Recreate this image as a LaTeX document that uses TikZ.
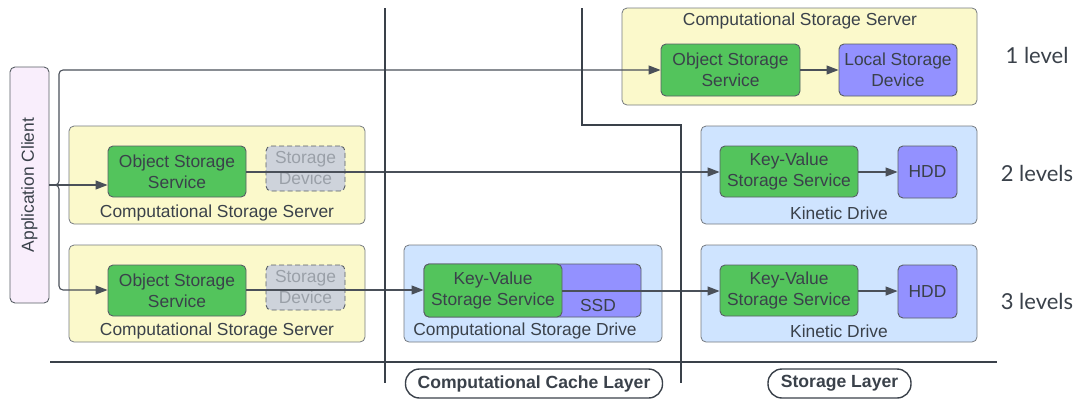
\documentclass[tikz,border=0pt]{standalone}
\usepackage{fontspec}
\setmainfont{Liberation Sans}
\newfontfamily\latofont{Lato}
\usetikzlibrary{arrows.meta}
\definecolor{txt}{HTML}{3A414A}
\definecolor{edge}{HTML}{4A5059}
\definecolor{yel}{HTML}{FBF9CB}
\definecolor{blu}{HTML}{CFE4FF}
\definecolor{grn}{HTML}{53C45C}
\definecolor{pur}{HTML}{9391FF}
\definecolor{gry}{HTML}{CED3DB}
\definecolor{gtx}{HTML}{9AA0A8}
\definecolor{pnk}{HTML}{F9EEFC}
\tikzset{
  base/.style={draw=txt!85, rounded corners=5pt, inner sep=0pt, line width=0.9pt, text=txt,
    font=\fontsize{17.4}{21}\selectfont, align=center},
  cont/.style={base, draw=txt!70, line width=0.8pt},
  ybox/.style={cont, fill=yel},
  bbox/.style={cont, fill=blu},
  gbox/.style={base, fill=grn},
  pbox/.style={base, fill=pur},
  dbox/.style={base, fill=gry, dashed, dash pattern=on 5pt off 3pt, text=gtx},
  lbl/.style={text=txt, font=\fontsize{17.4}{21}\selectfont, inner sep=0pt},
  lvl/.style={text=txt, font=\latofont\fontsize{22}{26}\selectfont, inner sep=0pt},
  pill/.style={draw=txt, line width=1.4pt, rounded corners=14pt, text=txt,
    font=\bfseries\fontsize{17.6}{21}\selectfont, inner sep=0pt},
  conn/.style={draw=edge, line width=1.1pt},
  arr/.style={conn, -{Triangle[length=12pt,width=9pt]}},
  layer/.style={draw=txt, line width=2pt},
}
\begin{document}
\begin{tikzpicture}[x=1pt,y=-1pt]
\useasboundingbox (0,0) rectangle (1078,400);
% containers
\node[ybox, minimum width=355pt, minimum height=97pt] (srv1) at (799.5,56.5) {};
\node[lbl] (srv1l) at (800,21) {Computational Storage Server};
\node[ybox, minimum width=296pt, minimum height=98pt] (srv2) at (217,175) {};
\node[lbl] (srv2l) at (217,213) {Computational Storage Server};
\node[ybox, minimum width=296pt, minimum height=97pt] (srv3) at (217,293.5) {};
\node[lbl] (srv3l) at (217,331) {Computational Storage Server};
\node[bbox, minimum width=276pt, minimum height=98pt] (kd2) at (839,175) {};
\node[lbl] (kd2l) at (839,213) {Kinetic Drive};
\node[bbox, minimum width=276pt, minimum height=97pt] (kd3) at (839,293.5) {};
\node[lbl] (kd3l) at (839,331) {Kinetic Drive};
\node[bbox, minimum width=258pt, minimum height=97pt] (csd) at (533,293.5) {};
\node[lbl] (csdl) at (525,331) {Computational Storage Drive};
% application client
\node[base, fill=pnk, minimum width=39pt, minimum height=236pt] (app) at (29.5,185) {};
\node[lbl, rotate=90] (appl) at (29.5,185) {Application Client};
% inner boxes
\node[gbox, minimum width=139pt, minimum height=52pt] (oss1) at (730.5,70) {Object Storage\\Service};
\node[pbox, minimum width=118pt, minimum height=52pt] (lsd) at (898,70) {Local Storage\\Device};
\node[gbox, minimum width=138pt, minimum height=51pt] (oss2) at (177,171.5) {Object Storage\\Service};
\node[dbox, minimum width=79pt, minimum height=45pt] (sd2) at (305.5,168.5) {Storage\\Device};
\node[gbox, minimum width=138pt, minimum height=51pt] (oss3) at (177,290.5) {Object Storage\\Service};
\node[dbox, minimum width=79pt, minimum height=45pt] (sd3) at (305.5,287.5) {Storage\\Device};
\node[gbox, minimum width=138pt, minimum height=51pt] (kv2) at (789,171.5) {Key-Value\\Storage Service};
\node[pbox, minimum width=59pt, minimum height=52pt] (hdd2) at (927.5,172) {HDD};
\node[gbox, minimum width=138pt, minimum height=51pt] (kv3) at (789,290.5) {Key-Value\\Storage Service};
\node[pbox, minimum width=59pt, minimum height=53pt] (hdd3) at (927.5,291.5) {HDD};
\node[pbox, minimum width=217pt, minimum height=53pt] (ssd) at (532.5,290.5) {};
\node[lbl] (ssdl) at (598,306) {SSD};
\node[gbox, minimum width=138pt, minimum height=53pt] (kvc) at (493,290.5) {Key-Value\\Storage Service};
% connectors
\coordinate (br) at (59,185);
\draw[arr] (app.east |- br) -- (oss2.west |- br);
\draw[arr, rounded corners=4pt] (app.east |- br) -- (br) -- (59,70) -- (oss1.west);
\draw[arr, rounded corners=4pt] (app.east |- br) -- (br) -- (59,290) -- (oss3.west |- 0,290);
\draw[arr] (oss1.east) -- (lsd.west);
\draw[arr] (oss2.east |- 0,172) -- (kv2.west |- 0,172);
\draw[arr] (kv2.east |- 0,172) -- (hdd2.west |- 0,172);
\draw[arr] (oss3.east |- 0,290) -- (kvc.west |- 0,290);
\draw[arr] (kvc.east |- 0,291) -- (kv3.west |- 0,291);
\draw[arr] (kv3.east |- 0,291) -- (hdd3.west |- 0,291);
% layer lines
\coordinate (v1t) at (385,8);
\coordinate (v1b) at (385,383);
\coordinate (v2t) at (582,8);
\coordinate (v2m) at (582,125);
\coordinate (v2n) at (681,125);
\coordinate (v2b) at (681,383);
\coordinate (hl) at (50,362);
\coordinate (hm) at (385,362);
\coordinate (hr) at (997,362);
\draw[layer] (v1t) -- (v1b);
\draw[layer] (v2t) -- (v2m) -- (v2n) -- (v2b);
\draw[layer, line width=1.3pt] (hl) -- (hm);
\draw[layer] (hm) -- (hr);
% layer labels
\node[pill, minimum width=257pt, minimum height=29pt] (cache) at (534,383.5) {Computational Cache Layer};
\node[pill, minimum width=143pt, minimum height=29pt] (stor) at (839.5,383.5) {Storage Layer};
% level labels
\node[lvl] (l1) at (1037,55) {1 level};
\node[lvl] (l2) at (1037,173) {2 levels};
\node[lvl] (l3) at (1037,301) {3 levels};
\end{tikzpicture}
\end{document}
